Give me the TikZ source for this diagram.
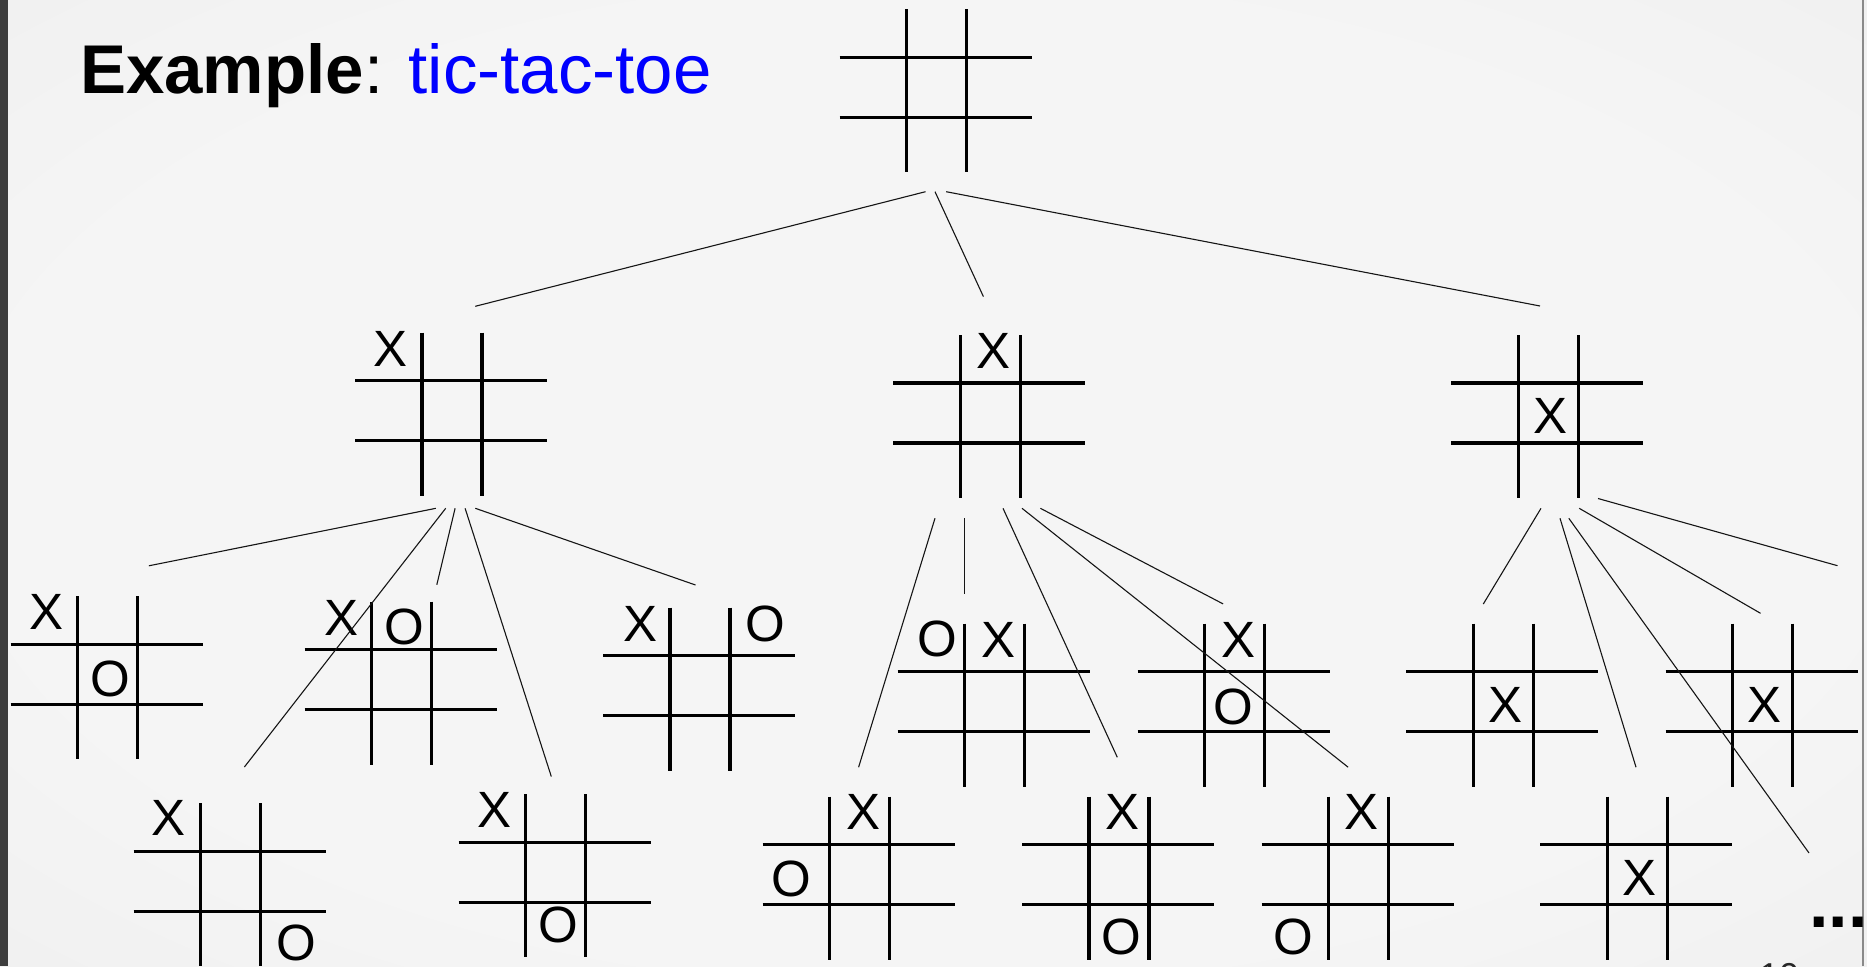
\documentclass[tikz,border=0pt]{standalone}
\usepackage{fontspec}
\setmainfont{Liberation Sans}
\usetikzlibrary{calc}
\definecolor{bgA}{HTML}{F5F5F5}
\definecolor{bgB}{HTML}{EBEBEB}
\definecolor{bgC}{HTML}{D9D9D9}
\definecolor{stripcol}{HTML}{3D3D3D}
\definecolor{edgecol}{HTML}{8A8A8A}
\definecolor{titleblue}{HTML}{0000FF}
\definecolor{conncol}{HTML}{151515}
\pgfdeclareradialshading{slidebg}{\pgfpoint{0bp}{0bp}}{color(0bp)=(bgA); color(25bp)=(bgA); color(50bp)=(bgB); color(71bp)=(bgC)}
\tikzset{
  boardbox/.style={rectangle, draw=none, inner sep=0pt, minimum width=192pt, minimum height=163pt},
  gridline/.style={line width=3.3pt, black, line cap=butt},
  markfont/.style={inner sep=0pt, anchor=center, font=\fontsize{51}{60}\selectfont},
  conn/.style={line width=1.1pt, conncol},
}
\newcommand\tttboard[3]{%
  \node[boardbox] (#1) at (#2,#3) {};
  \draw[gridline] ($(#1)+(-30,-78)$) -- ($(#1)+(-30,85)$);
  \draw[gridline] ($(#1)+(30,-78)$) -- ($(#1)+(30,85)$);
  \draw[gridline] ($(#1)+(-97,-30)$) -- ($(#1)+(95,-30)$);
  \draw[gridline] ($(#1)+(-97,30)$) -- ($(#1)+(95,30)$);
}
\newcommand\ttmark[4]{\node[markfont] (#1-#4) at ($(#1)+(#2,#3)$) {#4};}
\begin{document}
\begin{tikzpicture}[x=1pt, y=-1pt]
\useasboundingbox (0,0) rectangle (1867,966);
% background
\shade[shading=slidebg] (0,0) rectangle (1867,966);
\fill[stripcol] (0,0) rectangle (7.5,966);
\draw[edgecol, line width=1.5pt] (1863,0) -- (1863,966);

% title
\node[anchor=base west, inner sep=0pt] (title) at (80,93.5)
  {\fontsize{69}{80}\selectfont\textbf{Example}: \textcolor{titleblue}{tic-tac-toe}};

% boards
\tttboard{T}{936.7}{87.3}
\tttboard{A}{452}{410.5}
\tttboard{B}{990.4}{413}
\tttboard{C}{1548.4}{413}
\tttboard{A1}{107.7}{674.2}
\tttboard{A2}{401.6}{679.5}
\tttboard{A3}{700}{685.7}
\tttboard{A4}{230.5}{881.2}
\tttboard{A5}{555.6}{872.3}
\tttboard{B0}{859.7}{874.5}
\tttboard{B1}{994.5}{701.7}
\tttboard{B2}{1119}{874.5}
\tttboard{B3}{1234.7}{701.7}
\tttboard{B4}{1358.5}{874.5}
\tttboard{C1}{1503.3}{701.7}
\tttboard{C2}{1637.3}{874.5}
\tttboard{C3}{1762.5}{701.7}

% marks
\ttmark{A}{-61}{-62}{X}
\ttmark{B}{3}{-62.5}{X}
\ttmark{C}{2}{2.5}{X}
\ttmark{A1}{-61}{-62.5}{X}
\ttmark{A1}{3}{5}{O}
\ttmark{A2}{-60.5}{-62}{X}
\ttmark{A2}{3}{-53}{O}
\ttmark{A3}{-59.5}{-62}{X}
\ttmark{A3}{65}{-62}{O}
\ttmark{A4}{-61.5}{-63}{X}
\ttmark{A4}{65.5}{62}{O}
\ttmark{A5}{-61.5}{-62.5}{X}
\ttmark{A5}{2.5}{52.7}{O}
\ttmark{B0}{4}{-62.5}{X}
\ttmark{B0}{-68}{4}{O}
\ttmark{B1}{-57}{-62.7}{O}
\ttmark{B1}{4}{-62}{X}
\ttmark{B2}{3.4}{-62.5}{X}
\ttmark{B2}{2.6}{62}{O}
\ttmark{B3}{3.7}{-62}{X}
\ttmark{B3}{-1.7}{5}{O}
\ttmark{B4}{3}{-62.5}{X}
\ttmark{B4}{-65}{62}{O}
\ttmark{C1}{2}{3.3}{X}
\ttmark{C2}{2}{3.2}{X}
\ttmark{C3}{2}{3.3}{X}

% continuation and page number
\node[anchor=base west, inner sep=0pt] (more) at (1809,927) {\fontsize{70}{80}\selectfont\bfseries ...};
\node[anchor=base west, inner sep=0pt, text=black!85] (pagenum) at (1759,988) {\fontsize{36}{40}\selectfont 10};

% connector end points
\coordinate (T1s) at (925.5,191.7);  \coordinate (T1e) at (475.3,306.3);
\coordinate (T2s) at (935,191.7);    \coordinate (T2e) at (983.4,296.6);
\coordinate (T3s) at (946.2,191.7);  \coordinate (T3e) at (1540,306);
\coordinate (A1s) at (435.9,508.3);  \coordinate (A1e) at (148.9,565.8);
\coordinate (A4s) at (445.7,508.3);  \coordinate (A4e) at (244.4,767);
\coordinate (A2s) at (455.1,508.3);  \coordinate (A2e) at (436.8,584.8);
\coordinate (A5s) at (465.1,508.3);  \coordinate (A5e) at (551.3,776.5);
\coordinate (A3s) at (475.3,508.3);  \coordinate (A3e) at (695.5,585);
\coordinate (B0s) at (935,518.2);    \coordinate (B0e) at (858.6,767.2);
\coordinate (B1s) at (964.3,518.2);  \coordinate (B1e) at (964.3,594.3);
\coordinate (B2s) at (1003,508.3);   \coordinate (B2e) at (1117.3,757.3);
\coordinate (B4s) at (1022,508.3);   \coordinate (B4e) at (1348.1,767.2);
\coordinate (B3s) at (1040.4,508.3); \coordinate (B3e) at (1223.1,603.9);
\coordinate (C1s) at (1541,508.3);   \coordinate (C1e) at (1483.3,604);
\coordinate (C2s) at (1560,518.3);   \coordinate (C2e) at (1636,767.2);
\coordinate (CDs) at (1568.8,518.3); \coordinate (CDe) at (1809,853);
\coordinate (C3s) at (1579.2,508.3); \coordinate (C3e) at (1760.5,613.3);
\coordinate (COs) at (1598,498.5);   \coordinate (COe) at (1837.5,565.7);

% connectors
\foreach \c in {T1,T2,T3,A1,A2,A3,A4,A5,B0,B1,B2,B3,B4,C1,C2,C3,CD,CO}
  \draw[conn] (\c s) -- (\c e);
\end{tikzpicture}
\end{document}
